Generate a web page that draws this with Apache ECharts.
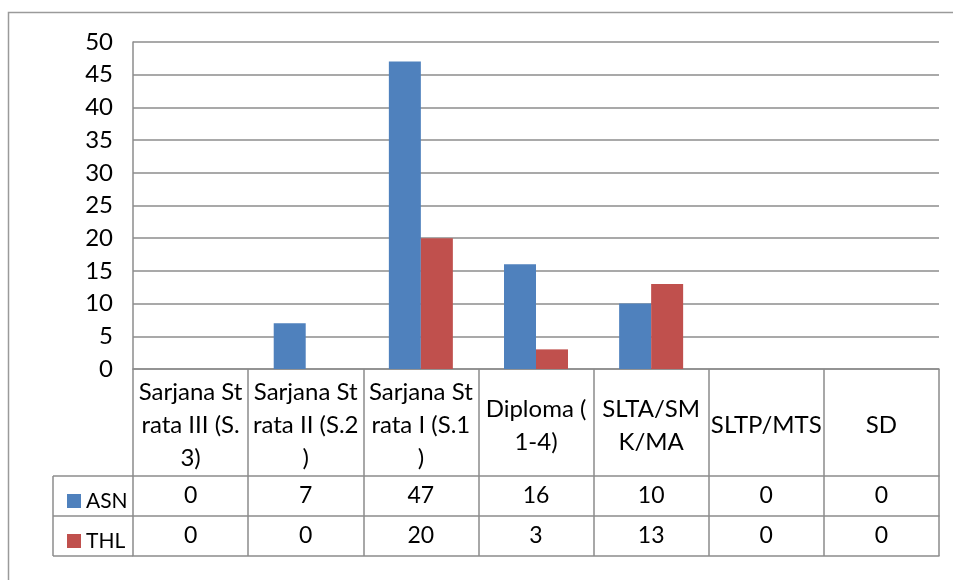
<!DOCTYPE html>
<html>
<head>
<meta charset="utf-8">
<script src="https://cdn.jsdelivr.net/npm/echarts@6/dist/echarts.min.js"></script>
<style>
html,body{margin:0;padding:0;background:#fff;}
#chart{width:953px;height:580px;}
</style>
</head>
<body>
<div id="chart"></div>
<script>
// ---- data ----
const categories = ["Sarjana Strata III (S.3)", "Sarjana Strata II (S.2)", "Sarjana Strata I (S.1)", "Diploma (1-4)", "SLTA/SMK/MA", "SLTP/MTS", "SD"];
const categoryLabels = ["Sarjana St\nrata III (S.\n3)", "Sarjana St\nrata II (S.2\n)", "Sarjana St\nrata I (S.1\n)", "Diploma (\n1-4)", "SLTA/SM\nK/MA", "SLTP/MTS", "SD"];
const seriesNames = ["ASN", "THL"];
const asnValues = [0, 7, 47, 16, 10, 0, 0];
const thlValues = [0, 0, 20, 3, 13, 0, 0];
const yTicks = [0, 5, 10, 15, 20, 25, 30, 35, 40, 45, 50];

// ---- layout ----
const W = 953, H = 580;
const gridLeft = 133, gridRight = 14, gridTop = 42, gridBottom = 211;
const headerH = 107, rowH = 40;
const tableLeft = 53;
const FONT = 'Lato, "Open Sans", sans-serif';
const FS = 23;
const lineCol = '#8c8c8c';
const txtCol = '#000';

const chart = echarts.init(document.getElementById('chart'));
const axisY = H - gridBottom;
const row1 = axisY + headerH, row2 = row1 + rowH, row3 = row2 + rowH;

const option = {
  animation: false,
  backgroundColor: '#fff',
  textStyle: { fontFamily: FONT },
  grid: { left: gridLeft, right: gridRight, top: gridTop, bottom: gridBottom, outerBoundsMode: 'none', containLabel: false },
  legend: {
    orient: 'vertical',
    left: 62,
    top: row1 + rowH / 2 - 13,
    itemWidth: 14, itemHeight: 14, itemGap: rowH - 26,
    icon: 'rect',
    data: seriesNames,
    textStyle: { fontFamily: FONT, fontSize: 21, color: txtCol, lineHeight: 26, padding: [0, 0, 0, 0] },
    selectedMode: false
  },
  xAxis: [
    {
      type: 'category', data: categoryLabels, position: 'bottom',
      axisLine: { show: true, lineStyle: { color: lineCol, width: 1.5 } },
      axisTick: { show: true, length: headerH + 2 * rowH, alignWithLabel: false, interval: 0, lineStyle: { color: lineCol, width: 1.5 } },
      axisLabel: { interval: 0, margin: headerH / 2 + 3, verticalAlign: 'middle', align: 'center', lineHeight: 33, fontSize: FS + 1, fontFamily: FONT, color: txtCol },
      splitLine: { show: false }
    },
    {
      type: 'category', data: asnValues.map(String), position: 'bottom', offset: headerH,
      axisLine: { show: true, lineStyle: { color: lineCol, width: 1.5 } },
      axisTick: { show: false },
      axisLabel: { interval: 0, margin: rowH / 2, verticalAlign: 'middle', fontSize: FS, fontFamily: FONT, color: txtCol }
    },
    {
      type: 'category', data: thlValues.map(String), position: 'bottom', offset: headerH + rowH,
      axisLine: { show: true, lineStyle: { color: lineCol, width: 1.5 } },
      axisTick: { show: false },
      axisLabel: { interval: 0, margin: rowH / 2, verticalAlign: 'middle', fontSize: FS, fontFamily: FONT, color: txtCol }
    },
    {
      type: 'category', data: categories, position: 'bottom', offset: headerH + 2 * rowH,
      axisLine: { show: true, lineStyle: { color: lineCol, width: 1.5 } },
      axisTick: { show: false },
      axisLabel: { show: false }
    }
  ],
  yAxis: {
    type: 'value', min: yTicks[0], max: yTicks[yTicks.length - 1], interval: yTicks[1] - yTicks[0],
    axisLine: { show: true, lineStyle: { color: lineCol, width: 1.5 } },
    axisTick: { show: false },
    axisLabel: { margin: 20, fontSize: FS + 1, fontFamily: FONT, color: txtCol },
    splitLine: { show: true, lineStyle: { color: lineCol, width: 1.5 } }
  },
  series: [
    { name: seriesNames[0], type: 'bar', xAxisIndex: 0, data: asnValues, barWidth: 32, barGap: '0%', itemStyle: { color: '#4F81BD' } },
    { name: seriesNames[1], type: 'bar', xAxisIndex: 0, data: thlValues, barWidth: 32, barGap: '0%', itemStyle: { color: '#C0504D' } }
  ],
  graphic: [
    { type: 'rect', shape: { x: 8.5, y: 12.5, width: W + 20, height: H + 20 }, style: { fill: null, stroke: '#9a9a9a', lineWidth: 1.5 }, silent: true },
    { type: 'line', shape: { x1: tableLeft, y1: row1, x2: gridLeft, y2: row1 }, style: { stroke: lineCol, lineWidth: 1.5 }, silent: true },
    { type: 'line', shape: { x1: tableLeft, y1: row2, x2: gridLeft, y2: row2 }, style: { stroke: lineCol, lineWidth: 1.5 }, silent: true },
    { type: 'line', shape: { x1: tableLeft, y1: row3, x2: gridLeft, y2: row3 }, style: { stroke: lineCol, lineWidth: 1.5 }, silent: true },
    { type: 'line', shape: { x1: tableLeft, y1: row1, x2: tableLeft, y2: row3 }, style: { stroke: lineCol, lineWidth: 1.5 }, silent: true }
  ]
};
chart.setOption(option);
</script>
</body>
</html>
